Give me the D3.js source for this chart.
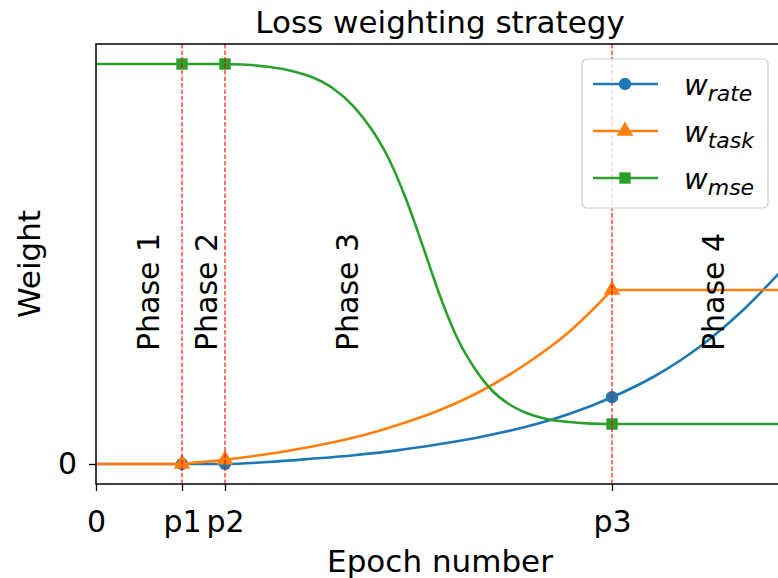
<!DOCTYPE html>
<html>
<head>
<meta charset="utf-8">
<script src="https://cdn.jsdelivr.net/npm/d3@7"></script>
<style>
  body { margin: 0; background: #fff; }
  svg { display: block; font-family: 'DejaVu Sans', sans-serif; }
</style>
</head>
<body>
<div id="chart"></div>
<script>
// phase boundaries (epochs) and axis ticks
const phaseEpochs = [20, 30, 120];
const tickEpochs = [0, 20, 30, 120];
const tickLabels = ['0', 'p1', 'p2', 'p3'];
const phaseNames = ['Phase 1', 'Phase 2', 'Phase 3', 'Phase 4'];
const phaseLabelEpochs = [12.1, 25.8, 58.6, 143.5];

// w_rate (blue)
const rateEpochs = [0, 20, 30, 40, 50, 60, 70, 80, 90, 100, 110, 120, 130, 140, 150, 160];
const rateValues = [0, 0, 0, 0.005, 0.013, 0.022, 0.034, 0.05, 0.069, 0.093, 0.125, 0.167, 0.22, 0.29, 0.38, 0.49];

// w_task (orange)
const taskEpochs = [0, 20, 30, 40, 50, 60, 70, 80, 90, 100, 110, 120, 160];
const taskValues = [0, 0, 0.011, 0.025, 0.043, 0.066, 0.097, 0.135, 0.185, 0.25, 0.33, 0.435, 0.435];

// w_mse (green)
const mseEpochs = [0, 20, 30, 35, 40, 45, 50, 55, 60, 64, 68, 72, 76, 80, 84, 88, 92, 96, 100, 105, 110, 115, 120, 160];
const mseValues = [1, 1, 1, 0.998, 0.993, 0.984, 0.968, 0.94, 0.893, 0.838, 0.765, 0.665, 0.545, 0.42, 0.315, 0.24, 0.185, 0.15, 0.128, 0.112, 0.105, 0.101, 0.1, 0.1];

const seriesColors = ['#1f77b4', '#ff7f0e', '#2ca02c'];

const series = [
  { name: 'rate', xs: rateEpochs, ys: rateValues, breaks: [], symbol: d3.symbolCircle, size: 120 },
  { name: 'task', xs: taskEpochs, ys: taskValues, breaks: [20, 120], symbol: d3.symbolTriangle, size: 120 },
  { name: 'mse', xs: mseEpochs, ys: mseValues, breaks: [30, 120], symbol: d3.symbolSquare, size: 130 }
];
series.forEach((s, i) => s.color = seriesColors[i]);

const W = 778, H = 578;
const m = { left: 96, top: 44, right: 784, bottom: 484 };

const x = d3.scaleLinear().domain([0, 160]).range([m.left, m.right]);
const y = d3.scaleLinear().domain([-0.05, 1.05]).range([m.bottom, m.top]);

const svg = d3.select('#chart')
  .append('svg')
  .attr('width', W)
  .attr('height', H);

// split a series into pieces at sharp corners so the curve keeps them
function pieces(s) {
  const pts = s.xs.map((e, i) => [e, s.ys[i]]);
  const out = [];
  let cur = [pts[0]];
  for (let i = 1; i < pts.length; i++) {
    cur.push(pts[i]);
    if (s.breaks.includes(pts[i][0]) && i < pts.length - 1) {
      out.push(cur);
      cur = [pts[i]];
    }
  }
  out.push(cur);
  return out;
}

const line = d3.line()
  .x((d) => x(d[0]))
  .y((d) => y(d[1]))
  .curve(d3.curveMonotoneX);

series.forEach((s) => {
  svg.append('g')
    .selectAll('path')
    .data(pieces(s))
    .enter()
    .append('path')
    .attr('d', line)
    .attr('fill', 'none')
    .attr('stroke', s.color)
    .attr('stroke-width', 2.6)
    .attr('stroke-linejoin', 'round');

  const marks = phaseEpochs.map((e) => [e, s.ys[s.xs.indexOf(e)]]);
  svg.append('g')
    .selectAll('path')
    .data(marks)
    .enter()
    .append('path')
    .attr('transform', (d) => `translate(${x(d[0])},${y(d[1])})`)
    .attr('d', d3.symbol().type(s.symbol).size(s.size))
    .attr('fill', s.color);
});

// phase boundaries
svg.append('g')
  .selectAll('line')
  .data(phaseEpochs)
  .enter()
  .append('line')
  .attr('x1', (d) => x(d))
  .attr('x2', (d) => x(d))
  .attr('y1', m.top)
  .attr('y2', m.bottom)
  .attr('stroke', 'red')
  .attr('stroke-width', 1.1)
  .attr('stroke-dasharray', '4.5,2');

// phase labels
svg.append('g')
  .selectAll('text')
  .data(phaseNames)
  .enter()
  .append('text')
  .attr('transform', (d, i) => `translate(${x(phaseLabelEpochs[i])},${y(0.43)}) rotate(-90)`)
  .attr('text-anchor', 'middle')
  .attr('dominant-baseline', 'central')
  .attr('font-size', 30)
  .text((d) => d);

// axes
const xAxis = d3.axisBottom(x)
  .tickValues(tickEpochs)
  .tickFormat((d, i) => tickLabels[i])
  .tickSize(7)
  .tickSizeOuter(0)
  .tickPadding(20);
const yAxis = d3.axisLeft(y)
  .tickValues([0])
  .tickFormat(() => '0')
  .tickSize(7)
  .tickSizeOuter(0)
  .tickPadding(12);

const gx = svg.append('g').attr('transform', `translate(0,${m.bottom})`).call(xAxis);
const gy = svg.append('g').attr('transform', `translate(${m.left},0)`).call(yAxis);
[gx, gy].forEach((g) => {
  g.select('.domain').remove();
  g.selectAll('.tick line').attr('stroke', '#000').attr('stroke-width', 1.3);
  g.selectAll('.tick text')
    .attr('fill', '#000')
    .attr('font-size', 30)
    .attr('font-family', 'DejaVu Sans, sans-serif');
});

// frame
svg.append('rect')
  .attr('x', m.left)
  .attr('y', m.top)
  .attr('width', m.right - m.left)
  .attr('height', m.bottom - m.top)
  .attr('fill', 'none')
  .attr('stroke', '#000')
  .attr('stroke-width', 1.5);

// titles
svg.append('text')
  .attr('x', (m.left + m.right) / 2)
  .attr('y', 33)
  .attr('text-anchor', 'middle')
  .attr('font-size', 31)
  .text('Loss weighting strategy');
svg.append('text')
  .attr('x', (m.left + m.right) / 2)
  .attr('y', 572)
  .attr('text-anchor', 'middle')
  .attr('font-size', 31)
  .text('Epoch number');
svg.append('text')
  .attr('transform', `translate(40,${(m.top + m.bottom) / 2}) rotate(-90)`)
  .attr('text-anchor', 'middle')
  .attr('font-size', 31)
  .text('Weight');

// legend
const legend = svg.append('g').attr('transform', 'translate(582,59)');
legend.append('rect')
  .attr('width', 186)
  .attr('height', 149)
  .attr('rx', 5)
  .attr('fill', '#fff')
  .attr('fill-opacity', 0.8)
  .attr('stroke', '#cccccc')
  .attr('stroke-width', 1.2);

const item = legend.selectAll('g.item')
  .data(series)
  .enter()
  .append('g')
  .attr('class', 'item')
  .attr('transform', (d, i) => `translate(0,${25 + i * 47})`);
item.append('line')
  .attr('x1', 11)
  .attr('x2', 76)
  .attr('stroke', (d) => d.color)
  .attr('stroke-width', 2.6);
item.append('path')
  .attr('transform', 'translate(43,0)')
  .attr('d', (d) => d3.symbol().type(d.symbol).size(d.size)())
  .attr('fill', (d) => d.color);
const label = item.append('text')
  .attr('x', 102)
  .attr('y', 11)
  .attr('font-style', 'italic');
label.append('tspan')
  .attr('font-size', 29)
  .text('w');
label.append('tspan')
  .attr('font-size', 22)
  .attr('dy', 6)
  .text((d) => d.name);
</script>
</body>
</html>
